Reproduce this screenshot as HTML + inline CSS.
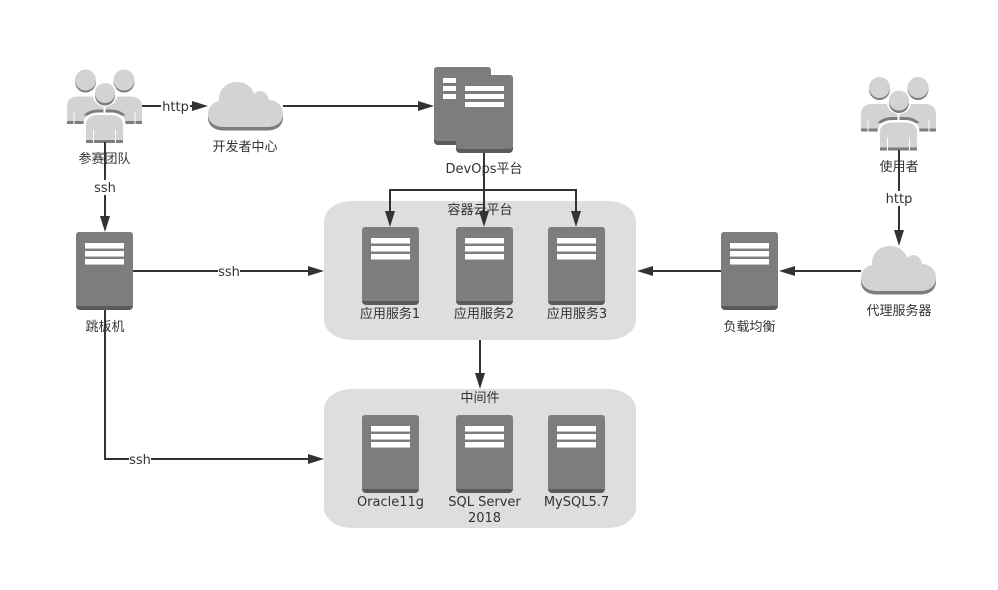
<!DOCTYPE html>
<html><head><meta charset="utf-8"><style>
html,body{margin:0;padding:0;background:#fff;width:998px;height:590px;overflow:hidden}
svg{display:block}
text{font-family:"DejaVu Sans","WenQuanYi Zen Hei","Noto Sans CJK SC",sans-serif;font-size:13px;fill:#333;text-anchor:middle}
.l{stroke:#333;stroke-width:2;fill:none}
.a{fill:#333;stroke:none}
</style></head><body>
<svg width="998" height="590" viewBox="0 0 998 590" xmlns="http://www.w3.org/2000/svg">
<defs>
<g id="srv">
<rect x="0" y="0" width="57" height="78" rx="4" fill="#5a5a5a"/>
<path d="M0 3a3 3 0 0 1 3-3h51a3 3 0 0 1 3 3v71H0z" fill="#7d7d7d"/>
<rect x="9" y="11" width="39" height="5" fill="#fff"/><rect x="9" y="16" width="39" height="1" fill="#c4c4c4"/>
<rect x="9" y="19" width="39" height="5" fill="#fff"/><rect x="9" y="24" width="39" height="1" fill="#c4c4c4"/>
<rect x="9" y="27" width="39" height="5" fill="#fff"/><rect x="9" y="32" width="39" height="1" fill="#c4c4c4"/>
</g>
<g id="cloud">
<path transform="translate(0,3.500)" d="M16 45C6 45 0 40 0 32C0 25 5 20 11 19C10 8 18 0 29 0C38 0 44 5 46 12C48 10 50 9 52 9C57 9 60 13 61 18C69 18 75 24 75 32C75 40 69 45 59 45Z" fill="#7d7d7d"/>
<path d="M16 45C6 45 0 40 0 32C0 25 5 20 11 19C10 8 18 0 29 0C38 0 44 5 46 12C48 10 50 9 52 9C57 9 60 13 61 18C69 18 75 24 75 32C75 40 69 45 59 45Z" fill="#d2d3d2"/>
</g>
<clipPath id="upper"><rect x="0" y="30" width="75" height="15.500"/></clipPath>
<g id="users">
<circle cx="18.500" cy="12" r="10.500" fill="#7d7d7d"/><circle cx="18.500" cy="10" r="10.500" fill="#d2d3d2"/>
<circle cx="57" cy="12" r="10.500" fill="#7d7d7d"/><circle cx="57" cy="10" r="10.500" fill="#d2d3d2"/>
<path d="M0 54V37C0 30 4 26.500 11 26.500H64C71 26.500 75 30 75 37V54H0Z" fill="#d2d3d2"/>
<rect x="0" y="51" width="75" height="3" fill="#7d7d7d"/>
<rect x="6.500" y="42" width="1" height="12" fill="#fff"/><rect x="67.500" y="42" width="1" height="12" fill="#fff"/>
<circle cx="38" cy="24" r="12.500" fill="#fff"/>
<circle cx="38" cy="25.500" r="10" fill="#7d7d7d"/><circle cx="38" cy="23" r="10" fill="#d2d3d2"/>
<path clip-path="url(#upper)" d="M19 73V54C19 48 25 45 31 45H44C50 45 56 48 56 54V73Z" fill="none" stroke="#7d7d7d" stroke-width="11"/>
<path d="M19 73V54C19 48 25 45 31 45H44C50 45 56 48 56 54V73Z" fill="#fff" stroke="#fff" stroke-width="5"/>
<rect x="36.500" y="36" width="2" height="8" fill="#fff"/>
<rect x="13" y="54" width="4" height="19" fill="#fff"/><rect x="58" y="54" width="4" height="19" fill="#fff"/>
<path d="M19 73V54C19 48 25 45 31 45H44C50 45 56 48 56 54V73Z" fill="#d2d3d2"/>
<rect x="19" y="70" width="37" height="3" fill="#7d7d7d"/>
<rect x="26" y="60" width="1" height="13" fill="#fff"/><rect x="48" y="60" width="1" height="13" fill="#fff"/>
</g>
</defs>

<rect x="324" y="201" width="312" height="139" rx="28" ry="20" fill="#dedede"/>
<rect x="324" y="389" width="312" height="139" rx="28" ry="20" fill="#dedede"/>

<use href="#users" x="67" y="70"/>
<use href="#users" x="861" y="77.500"/>
<use href="#cloud" x="208" y="82"/>
<use href="#cloud" x="861" y="246"/>

<!-- DevOps -->
<rect x="434" y="67" width="57" height="78" rx="4" fill="#5a5a5a"/>
<rect x="434" y="67" width="57" height="74" rx="3" fill="#7d7d7d"/>
<rect x="443" y="78" width="13" height="5" fill="#fff"/><rect x="443" y="86" width="13" height="5" fill="#fff"/><rect x="443" y="94" width="13" height="5" fill="#fff"/>
<rect x="456" y="75" width="57" height="78" rx="4" fill="#5a5a5a"/>
<rect x="456" y="75" width="57" height="74" rx="3" fill="#7d7d7d"/>
<rect x="465" y="86" width="39" height="5" fill="#fff"/><rect x="465" y="94" width="39" height="5" fill="#fff"/><rect x="465" y="102" width="39" height="5" fill="#fff"/>

<use href="#srv" x="76" y="232"/>
<use href="#srv" x="362" y="227"/>
<use href="#srv" x="456" y="227"/>
<use href="#srv" x="548" y="227"/>
<use href="#srv" x="721" y="232"/>
<use href="#srv" x="362" y="415"/>
<use href="#srv" x="456" y="415"/>
<use href="#srv" x="548" y="415"/>

<text x="104.500" y="163">参赛团队</text>
<text x="245" y="151">开发者中心</text>
<text x="484" y="173">DevOps平台</text>
<text x="899" y="171">使用者</text>
<text x="899" y="315">代理服务器</text>
<text x="105" y="331">跳板机</text>
<text x="749.500" y="331">负载均衡</text>
<text x="480" y="214">容器云平台</text>
<text x="390" y="318">应用服务1</text>
<text x="484" y="318">应用服务2</text>
<text x="577" y="318">应用服务3</text>
<text x="480" y="402">中间件</text>
<text x="390.500" y="506">Oracle11g</text>
<text x="484.500" y="506">SQL Server</text>
<text x="484.500" y="522">2018</text>
<text x="576.500" y="506">MySQL5.7</text>

<path class="l" d="M142 106H194"/><path class="a" d="M208 106L192 101V111Z"/>
<path class="l" d="M283 106H420"/><path class="a" d="M434 106L418 101V111Z"/>
<path class="l" d="M484 153V214"/><path class="a" d="M484 227L479 211H489Z"/>
<path class="l" d="M390 214V190H576V214"/>
<path class="a" d="M390 227L385 211H395Z"/><path class="a" d="M576 227L571 211H581Z"/>
<path class="l" d="M105 142V218"/><path class="a" d="M105 232L100 216H110Z"/>
<path class="l" d="M133 271H310"/><path class="a" d="M324 271L308 266V276Z"/>
<path class="l" d="M105 310V459H310"/><path class="a" d="M324 459L308 454V464Z"/>
<path class="l" d="M480 340V375"/><path class="a" d="M480 389L475 373H485Z"/>
<path class="l" d="M899 150V232"/><path class="a" d="M899 246L894 230H904Z"/>
<path class="l" d="M861 271H793"/><path class="a" d="M779 271L795 266V276Z"/>
<path class="l" d="M721 271H651"/><path class="a" d="M637 271L653 266V276Z"/>

<rect x="161" y="98" width="29" height="16" fill="#fff"/><text x="175.500" y="111">http</text>
<rect x="94" y="180" width="22" height="15" fill="#fff"/><text x="105" y="192">ssh</text>
<rect x="218" y="264" width="22" height="15" fill="#fff"/><text x="229" y="276">ssh</text>
<rect x="129" y="452" width="22" height="15" fill="#fff"/><text x="140" y="464">ssh</text>
<rect x="884" y="191" width="30" height="15" fill="#fff"/><text x="899" y="203">http</text>
</svg>
</body></html>
